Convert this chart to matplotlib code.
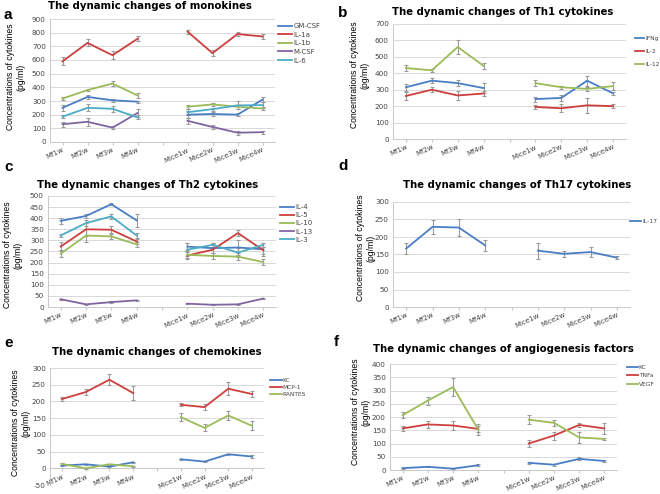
import numpy as np
import matplotlib
matplotlib.use("Agg")
import matplotlib.pyplot as plt

plt.rcParams["axes.unicode_minus"] = False

categories = ["Mf1w", "Mf2w", "Mf3w", "Mf4w", "", "Mice1w", "Mice2w", "Mice3w", "Mice4w"]

# Panel a: monokines
a_names = ["GM-CSF", "IL-1a", "IL-1b", "M-CSF", "IL-6"]
a_gmcsf = [250, 330, 305, 295, 200, 205, 200, 310]
a_il1a = [590, 725, 635, 755, 808, 650, 790, 772]
a_il1b = [318, 380, 428, 340, 258, 275, 258, 245]
a_mcsf = [130, 148, 105, 212, 155, 110, 68, 72]
a_il6 = [185, 250, 243, 180, 218, 240, 268, 270]
a_err_gmcsf = [20, 12, 10, 8, 25, 15, 10, 20]
a_err_il1a = [30, 25, 30, 18, 15, 22, 18, 15]
a_err_il1b = [10, 5, 20, 18, 15, 10, 15, 10]
a_err_mcsf = [18, 30, 10, 30, 20, 15, 15, 10]
a_err_il6 = [10, 25, 20, 15, 20, 10, 30, 20]

# Panel b: Th1
b_names = ["IFNg", "IL-2", "IL-12"]
b_ifng = [315, 355, 340, 310, 243, 250, 355, 278]
b_il2 = [262, 300, 265, 277, 195, 187, 205, 200]
b_il12 = [432, 418, 560, 445, 340, 315, 305, 322]
b_err_ifng = [20, 15, 20, 30, 15, 20, 30, 10]
b_err_il2 = [25, 15, 30, 15, 10, 25, 45, 10]
b_err_il12 = [20, 10, 40, 20, 20, 10, 10, 25]

# Panel c: Th2
c_names = ["IL-4", "IL-5", "IL-10", "IL-13", "IL-3"]
c_il4 = [388, 410, 463, 390, 272, 265, 268, 260]
c_il5 = [272, 350, 348, 295, 232, 258, 333, 255]
c_il10 = [240, 322, 318, 282, 235, 230, 227, 202]
c_il13 = [35, 12, 22, 30, 15, 10, 12, 38]
c_il3 = [322, 378, 408, 322, 258, 280, 245, 280]
c_err_il4 = [15, 10, 5, 30, 15, 20, 35, 30]
c_err_il5 = [20, 30, 15, 10, 15, 30, 15, 15]
c_err_il10 = [15, 30, 10, 10, 15, 15, 15, 15]
c_err_il13 = [3, 3, 3, 3, 3, 3, 3, 3]
c_err_il3 = [5, 15, 10, 10, 30, 10, 20, 10]

# Panel d: Th17
d_names = ["IL-17"]
d_il17 = [167, 229, 227, 176, 161, 152, 157, 141]
d_err_il17 = [15, 20, 25, 15, 23, 8, 13, 5]

# Panel e: chemokines
e_names = ["KC", "MCP-1", "RANTES"]
e_kc = [8, 12, 5, 18, 27, 20, 42, 35]
e_mcp1 = [207, 228, 265, 225, 190, 183, 238, 222]
e_rantes = [13, 0, 12, 6, 153, 121, 158, 127]
e_err_kc = [2, 2, 2, 2, 2, 2, 2, 5]
e_err_mcp1 = [5, 8, 17, 22, 5, 8, 20, 10]
e_err_rantes = [3, 2, 2, 2, 13, 10, 13, 13]

# Panel f: angiogenesis
f_names = ["KC", "TNFa", "VEGF"]
f_kc = [7, 12, 5, 18, 27, 20, 42, 34]
f_tnfa = [157, 172, 168, 155, 100, 130, 170, 157]
f_vegf = [207, 262, 313, 152, 190, 178, 123, 117]
f_err_kc = [2, 2, 2, 3, 4, 4, 6, 5]
f_err_tnfa = [8, 12, 18, 12, 15, 15, 8, 20]
f_err_vegf = [12, 15, 35, 20, 18, 12, 20, 5]

BLUE, RED, GREEN, PURPLE, CYAN = "#4A7EC4", "#CC3F3C", "#9BBB59", "#8064A2", "#4BACC6"

W, H = 660, 494
fig = plt.figure(figsize=(W / 100, H / 100), dpi=100)
fig.patch.set_facecolor("white")


def fx(px):
    return px / W


def fy(py):
    return 1 - py / H


def with_gap(vals):
    v = list(vals[:4]) + [np.nan] + list(vals[4:])
    return np.array(v, dtype=float)


def panel(rect, series, names, colors, ylim, ystep, title, title_xy, label, label_xy,
          ylab_xy, leg_xy, leg_fs, leg_sp, leg_hl=2.0, lw=1.3):
    l, t, r, b = rect
    ax = fig.add_axes([fx(l), fy(b), fx(r - l), (b - t) / H])
    x = np.arange(len(categories))
    for (vals, errs), name, col in zip(series, names, colors):
        y = with_gap(vals)
        e = with_gap(errs)
        ax.errorbar(x, y, yerr=e, fmt="none", ecolor="#9a9a9a", elinewidth=0.8,
                    capsize=1.5, capthick=0.8, zorder=2)
        ax.plot(x, y, color=col, lw=lw, label=name, zorder=3)
    ax.set_xlim(-0.5, len(categories) - 0.5)
    ax.set_ylim(*ylim)
    ax.set_yticks(np.arange(ylim[0], ylim[1] + 0.1, ystep))
    ax.yaxis.grid(True, color="#d9d9d9", lw=0.7)
    ax.set_axisbelow(True)
    for s in ["top", "right"]:
        ax.spines[s].set_visible(False)
    ax.spines["left"].set_color("#c8c8c8")
    ax.spines["bottom"].set_color("#c8c8c8")
    ax.spines["left"].set_linewidth(0.7)
    ax.spines["bottom"].set_linewidth(0.7)
    if ylim[0] < 0:
        ax.spines["bottom"].set_position(("data", 0))
    ax.set_xticks(x)
    ax.set_xticklabels(categories, rotation=25, ha="right", rotation_mode="anchor",
                       fontsize=5, color="#444444")
    ax.tick_params(axis="x", length=2, color="#c8c8c8", pad=1.5)
    ax.tick_params(axis="y", length=0, labelsize=5.2, labelcolor="#444444", pad=3)
    fig.text(fx(title_xy[0]), fy(title_xy[1]), title, ha="center", va="center",
             fontsize=7.3, fontweight="bold", family="DejaVu Sans")
    fig.text(fx(label_xy[0]), fy(label_xy[1]), label, ha="left", va="center",
             fontsize=11, fontweight="bold", family="Liberation Sans")
    fig.text(fx(ylab_xy[0]), fy(ylab_xy[1]), "Concentrations of cytokines\n(pg/ml)",
             ha="center", va="center", rotation=90, fontsize=6.2,
             family="Liberation Sans", linespacing=1.25)
    ax.legend(loc="upper left", bbox_to_anchor=(fx(leg_xy[0]), fy(leg_xy[1])),
              bbox_transform=fig.transFigure, frameon=False, fontsize=leg_fs,
              handlelength=leg_hl, handletextpad=0.2, labelspacing=leg_sp,
              borderpad=0, borderaxespad=0, labelcolor="#444444")
    return ax


panel((50, 19, 275, 142),
      [(a_gmcsf, a_err_gmcsf), (a_il1a, a_err_il1a), (a_il1b, a_err_il1b),
       (a_mcsf, a_err_mcsf), (a_il6, a_err_il6)],
      a_names, [BLUE, RED, GREEN, PURPLE, CYAN], (0, 900), 100,
      "The dynamic changes of monokines", (150, 6), "a", (4, 15),
      (16, 77), (278, 23), 5, 0.38)

panel((393, 24, 626, 139),
      [(b_ifng, b_err_ifng), (b_il2, b_err_il2), (b_il12, b_err_il12)],
      b_names, [BLUE, RED, GREEN], (0, 700), 100,
      "The dynamic changes of Th1 cytokines", (503, 12), "b", (338, 13),
      (360, 75), (635, 36), 4.2, 1.35, leg_hl=1.6)

panel((48, 196, 276, 307),
      [(c_il4, c_err_il4), (c_il5, c_err_il5), (c_il10, c_err_il10),
       (c_il13, c_err_il13), (c_il3, c_err_il3)],
      c_names, [BLUE, RED, GREEN, PURPLE, CYAN], (0, 500), 50,
      "The dynamic changes of Th2 cytokines", (148, 185), "c", (4, 167),
      (13, 255), (280, 204), 5, 0.32)

panel((393, 202, 630, 307),
      [(d_il17, d_err_il17)],
      d_names, [BLUE], (0, 300), 50,
      "The dynamic changes of Th17 cytokines", (517, 185), "d", (338, 166),
      (366, 248), (630, 219), 4.4, 0.2, leg_hl=1.8)

panel((50, 368, 264, 485),
      [(e_kc, e_err_kc), (e_mcp1, e_err_mcp1), (e_rantes, e_err_rantes)],
      e_names, [BLUE, RED, GREEN], (-50, 300), 50,
      "The dynamic changes of chemokines", (157, 352), "e", (4, 343),
      (21, 423), (270, 378), 4.2, 0.3)

panel((390, 364, 617, 470),
      [(f_kc, f_err_kc), (f_tnfa, f_err_tnfa), (f_vegf, f_err_vegf)],
      f_names, [BLUE, RED, GREEN], (0, 400), 50,
      "The dynamic changes of angiogenesis factors", (503, 349), "f", (334, 342),
      (361, 412), (627, 365), 4.2, 0.55, leg_hl=1.8)

fig.savefig("out.png", dpi=100)
